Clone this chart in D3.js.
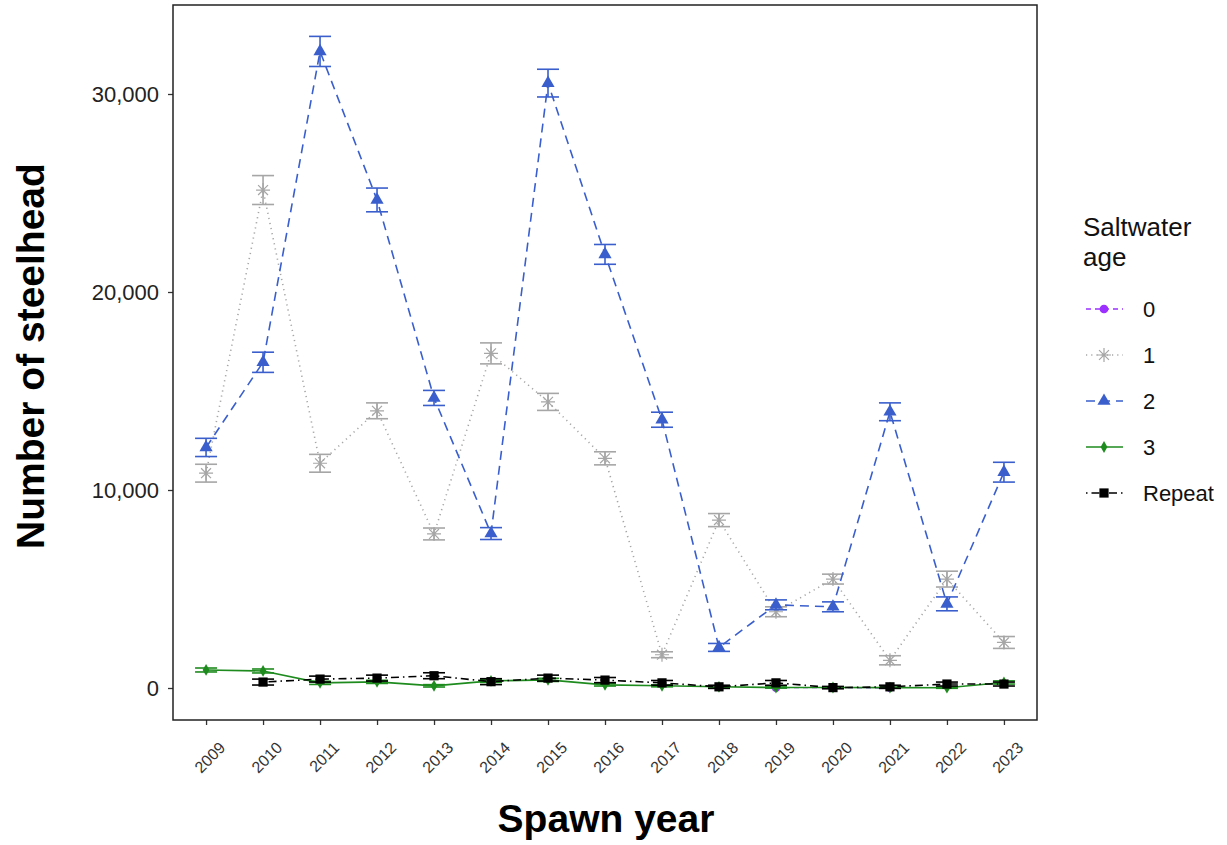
<!DOCTYPE html>
<html>
<head>
<meta charset="utf-8">
<script src="https://cdn.jsdelivr.net/npm/d3@7"></script>
<style>
  body { margin: 0; background: #fff; }
  svg { font-family: "Liberation Sans", Arial, sans-serif; }
</style>
</head>
<body>
<svg id="chart" width="1227" height="845"></svg>
<script>
// Spawn years on the x axis
const years = [2009, 2010, 2011, 2012, 2013, 2014, 2015, 2016, 2017, 2018, 2019, 2020, 2021, 2022, 2023];
const yTicks = [0, 10000, 20000, 30000];

// Estimated number of steelhead by saltwater age (null = no estimate)
const age0 = [null, null, null, null, null, null, null, null, null, null, 20, null, 15, null, null];
const age1 = [10850, 25150, 11350, 14000, 7780, 16900, 14450, 11600, 1680, 8480, 3850, 5500, 1400, 5500, 2300];
const age2 = [12150, 16450, 32150, 24650, 14650, 7800, 30550, 21900, 13550, 2050, 4200, 4100, 13950, 4250, 10900];
const age3 = [910, 860, 260, 310, 110, 360, 410, 160, 110, 60, 25, 25, 20, 15, 280];
const repeat = [null, 300, 450, 500, 620, 320, 500, 400, 260, 60, 260, 20, 60, 200, 200];

// Half-widths of the error bars
const age0Err = [0, 0, 0, 0, 0, 0, 0, 0, 0, 0, 10, 0, 10, 0, 0];
const age1Err = [450, 730, 450, 400, 300, 530, 430, 330, 150, 330, 250, 250, 230, 400, 300];
const age2Err = [460, 510, 760, 600, 380, 300, 700, 500, 380, 200, 250, 250, 450, 350, 500];
const age3Err = [100, 100, 80, 80, 60, 80, 80, 60, 50, 40, 30, 30, 30, 30, 80];
const repeatErr = [0, 150, 150, 150, 150, 150, 150, 130, 120, 80, 120, 60, 80, 100, 100];

const seriesNames = ["0", "1", "2", "3", "Repeat"];
const seriesValues = [age0, age1, age2, age3, repeat];
const seriesErrors = [age0Err, age1Err, age2Err, age3Err, repeatErr];

const styles = {
  "0":      { color: "#9B30FF", dash: "5,4",        shape: "circle",   size: 60, width: 1.4 },
  "1":      { color: "#A6A6A6", dash: "1.2,4",      shape: "asterisk", size: 7,  width: 1.6 },
  "2":      { color: "#3A5FCD", dash: "9,6",        shape: "triangle", size: 75, width: 1.6 },
  "3":      { color: "#1E8B1E", dash: null,         shape: "diamond",  size: 40, width: 1.6 },
  "Repeat": { color: "#000000", dash: "1.5,4,8,4",  shape: "square",   size: 85, width: 1.6 }
};

const svg = d3.select("#chart");
const panel = { left: 173, right: 1037, top: 5, bottom: 720 };

const x = d3.scalePoint().domain(years).range([panel.left, panel.right]).padding(0.58);
const y = d3.scaleLinear().domain([-1616, 34495]).range([panel.bottom, panel.top]);

// Axes
const xAxis = d3.axisBottom(x).tickSize(5).tickPadding(4);
const yAxis = d3.axisLeft(y).tickValues(yTicks).tickFormat(d3.format(",")).tickSize(5).tickPadding(9);

const gx = svg.append("g").attr("transform", `translate(0,${panel.bottom})`).call(xAxis);
gx.select(".domain").remove();
gx.selectAll(".tick line").attr("stroke", "#333").attr("stroke-width", 1.3);
gx.selectAll(".tick text")
  .attr("fill", "#333").attr("font-size", 16)
  .attr("text-anchor", "end")
  .attr("dy", "0.3em")
  .attr("transform", "translate(10,19) rotate(-45)");

const gy = svg.append("g").attr("transform", `translate(${panel.left},0)`).call(yAxis);
gy.select(".domain").remove();
gy.selectAll(".tick line").attr("stroke", "#333").attr("stroke-width", 1.3);
gy.selectAll(".tick text").attr("fill", "#222").attr("font-size", 22);

// Panel border
svg.append("rect")
  .attr("x", panel.left).attr("y", panel.top)
  .attr("width", panel.right - panel.left).attr("height", panel.bottom - panel.top)
  .attr("fill", "none").attr("stroke", "#222").attr("stroke-width", 1.5);

// Axis titles
svg.append("text")
  .attr("x", 606).attr("y", 832)
  .attr("text-anchor", "middle").attr("font-size", 39).attr("font-weight", "bold")
  .attr("fill", "#000").text("Spawn year");
svg.append("text")
  .attr("transform", `translate(44,356) rotate(-90)`)
  .attr("text-anchor", "middle").attr("font-size", 39).attr("font-weight", "bold")
  .attr("fill", "#000").text("Number of steelhead");

function symbolPath(shape, size) {
  if (shape === "asterisk") {
    const r = size;
    const p = [];
    for (let k = 0; k < 4; k++) {
      const a = k * Math.PI / 4;
      p.push(`M${-r * Math.cos(a)},${-r * Math.sin(a)}L${r * Math.cos(a)},${r * Math.sin(a)}`);
    }
    return p.join("");
  }
  const type = { circle: d3.symbolCircle, triangle: d3.symbolTriangle, diamond: d3.symbolDiamond, square: d3.symbolSquare }[shape];
  return d3.symbol().type(type).size(size)();
}

const plot = svg.append("g");
const capHalf = 11;

seriesNames.forEach((name, i) => {
  const st = styles[name];
  const pts = years.map((yr, j) => ({ yr, v: seriesValues[i][j], e: seriesErrors[i][j] }))
    .filter(d => d.v !== null);
  const g = plot.append("g");

  // error bars
  const eb = g.selectAll(".eb").data(pts).join("g").attr("stroke", st.color).attr("stroke-width", 1.6);
  eb.append("line").attr("x1", d => x(d.yr)).attr("x2", d => x(d.yr))
    .attr("y1", d => y(d.v - d.e)).attr("y2", d => y(d.v + d.e));
  eb.append("line").attr("x1", d => x(d.yr) - capHalf).attr("x2", d => x(d.yr) + capHalf)
    .attr("y1", d => y(d.v - d.e)).attr("y2", d => y(d.v - d.e));
  eb.append("line").attr("x1", d => x(d.yr) - capHalf).attr("x2", d => x(d.yr) + capHalf)
    .attr("y1", d => y(d.v + d.e)).attr("y2", d => y(d.v + d.e));

  // line
  g.append("path").datum(pts)
    .attr("fill", "none").attr("stroke", st.color).attr("stroke-width", st.width)
    .attr("stroke-dasharray", st.dash)
    .attr("d", d3.line().x(d => x(d.yr)).y(d => y(d.v)));

  // points
  g.selectAll(".pt").data(pts).join("path")
    .attr("transform", d => `translate(${x(d.yr)},${y(d.v)})`)
    .attr("d", symbolPath(st.shape, st.size))
    .attr("fill", st.shape === "asterisk" ? "none" : st.color)
    .attr("stroke", st.color)
    .attr("stroke-width", st.shape === "asterisk" ? 1.2 : 0);
});

// Legend
const legend = svg.append("g").attr("transform", "translate(1083,0)");
legend.append("text").attr("x", 0).attr("y", 236).attr("font-size", 26).attr("fill", "#111").text("Saltwater");
legend.append("text").attr("x", 0).attr("y", 266).attr("font-size", 26).attr("fill", "#111").text("age");
const legendY = [309, 355, 401, 447, 493];
seriesNames.forEach((name, i) => {
  const st = styles[name];
  const row = legend.append("g").attr("transform", `translate(0,${legendY[i]})`);
  row.append("line").attr("x1", 3).attr("x2", 40).attr("y1", 0).attr("y2", 0)
    .attr("stroke", st.color).attr("stroke-width", st.width).attr("stroke-dasharray", st.dash);
  row.append("path").attr("transform", "translate(21,0)")
    .attr("d", symbolPath(st.shape, st.size))
    .attr("fill", st.shape === "asterisk" ? "none" : st.color)
    .attr("stroke", st.color)
    .attr("stroke-width", st.shape === "asterisk" ? 1.2 : 0);
  row.append("text").attr("x", 60).attr("y", 0).attr("dy", "0.35em")
    .attr("font-size", 22).attr("fill", "#111").text(name);
});
</script>
</body>
</html>
